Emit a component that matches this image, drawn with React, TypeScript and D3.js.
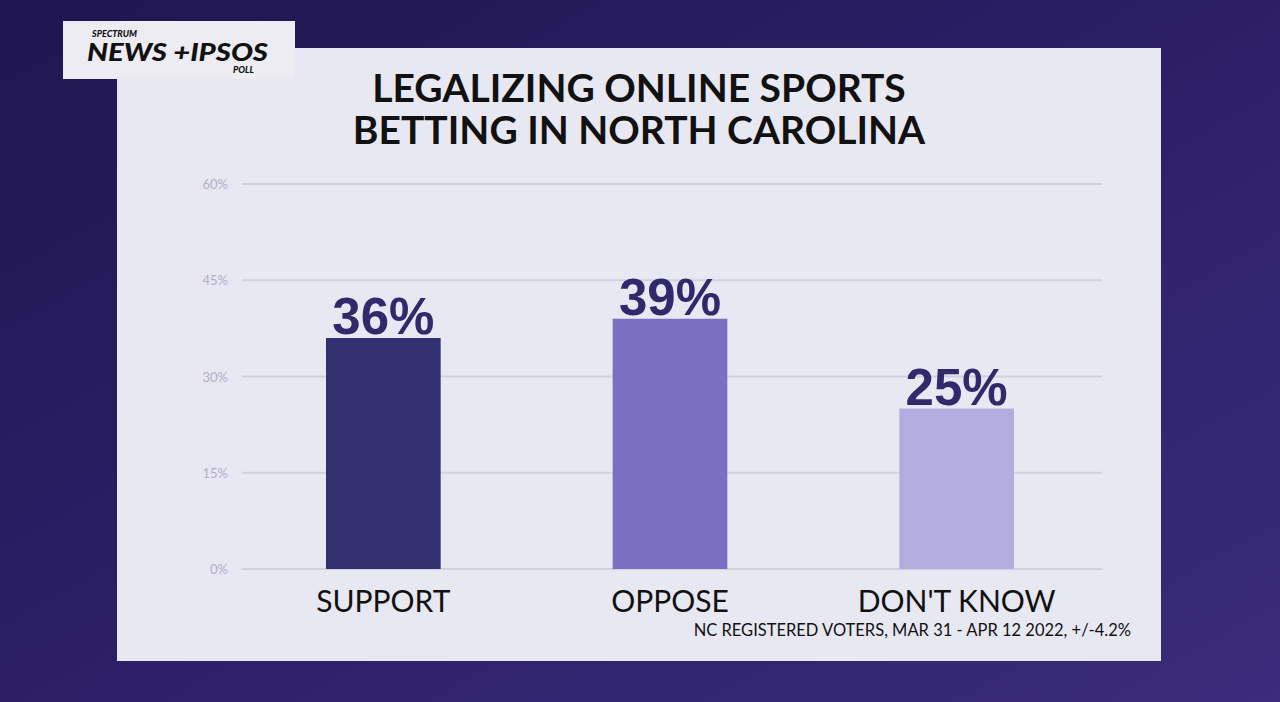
import React from "react";
import * as d3 from "d3";

const categories = ["SUPPORT", "OPPOSE", "DON'T KNOW"];
const values = [36, 39, 25];
const barColors = ["#33306f", "#7b6fc2", "#b3acdf"];
const yTicks = [0, 15, 30, 45, 60];
const titleLines = ["LEGALIZING ONLINE SPORTS", "BETTING IN NORTH CAROLINA"];
const footnote = "NC REGISTERED VOTERS, MAR 31 - APR 12 2022, +/-4.2%";

export default function App() {
  const W = 1280, H = 702;
  const x = d3.scaleBand<string>().domain(categories).range([240, 1100]).paddingInner(0.6).paddingOuter(0.3);
  const y = d3.scaleLinear().domain([0, 60]).range([569, 184]);
  const sans = "Lato, 'Open Sans', sans-serif";
  return (
    <svg width={W} height={H} style={{ position: "absolute", left: 0, top: 0 }}>
      <defs>
        <linearGradient id="bg" x1="0" y1="0" x2="1" y2="1">
          <stop offset="0" stopColor="#1f1650" />
          <stop offset="0.5" stopColor="#2c1f66" />
          <stop offset="1" stopColor="#3a2c7a" />
        </linearGradient>
      </defs>
      <rect x={0} y={0} width={W} height={H} fill="url(#bg)" />
      <rect x={117} y={48} width={1044} height={613} fill="#e8e8f2" />
      {/* logo */}
      <rect x={63} y={21} width={232} height={58} fill="#ececf2" />
      <text x={92} y={37} fontFamily={sans} fontWeight={900} fontStyle="italic" fontSize={9} fill="#111">SPECTRUM</text>
      <text x={87} y={61} fontFamily={sans} fontWeight={900} fontStyle="italic" fontSize={24} fill="#111" textLength={181} lengthAdjust="spacingAndGlyphs">NEWS +IPSOS</text>
      <text x={233} y={73} fontFamily={sans} fontWeight={900} fontStyle="italic" fontSize={9} fill="#111">POLL</text>
      {/* title */}
      {titleLines.map((t, i) => (
        <text key={t} x={639} y={102 + i * 42} textAnchor="middle" fontFamily={sans} fontWeight={700} fontSize={39} fill="#111">{t}</text>
      ))}
      {/* grid */}
      {yTicks.map((t) => (
        <g key={t}>
          <line x1={242} x2={1102} y1={y(t)} y2={y(t)} stroke="#d2d1de" strokeWidth={2} />
          <text x={228} y={y(t) + 5} textAnchor="end" fontFamily={sans} fontSize={13} fill="#b0aec8">{t}%</text>
        </g>
      ))}
      {/* bars */}
      {categories.map((c, i) => (
        <g key={c}>
          <rect x={x(c)} y={y(values[i])} width={x.bandwidth()} height={y(0) - y(values[i])} fill={barColors[i]} />
          <text x={(x(c) as number) + x.bandwidth() / 2} y={y(values[i]) - 4} textAnchor="middle" fontFamily="'Liberation Sans', Arial, sans-serif" fontWeight={700} fontSize={51} fill="#2e2a6b">{values[i]}%</text>
          <text x={(x(c) as number) + x.bandwidth() / 2} y={612} textAnchor="middle" fontFamily={sans} fontSize={30} fill="#111">{c}</text>
        </g>
      ))}
      <text x={1131} y={636} textAnchor="end" fontFamily={sans} fontSize={16.5} fill="#111">{footnote}</text>
    </svg>
  );
}
